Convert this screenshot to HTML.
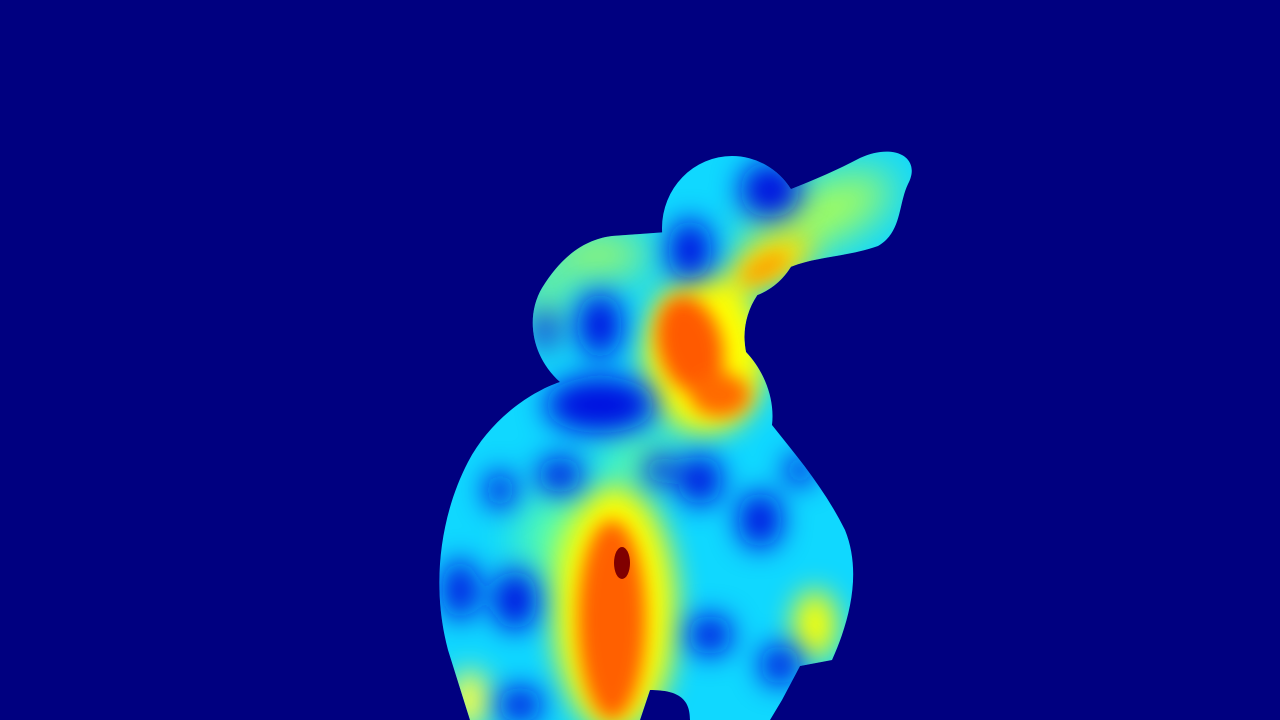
<!DOCTYPE html>
<html><head><meta charset="utf-8"><style>
html,body{margin:0;padding:0;background:#000080;width:1280px;height:720px;overflow:hidden}
svg{display:block}
</style></head><body>
<svg width="1280" height="720" viewBox="0 0 1280 720">
<defs>
<filter id="b8" x="-50%" y="-50%" width="200%" height="200%"><feGaussianBlur stdDeviation="9"/></filter>
<filter id="b14" x="-50%" y="-50%" width="200%" height="200%"><feGaussianBlur stdDeviation="14"/></filter>
<filter id="b22" x="-50%" y="-50%" width="200%" height="200%"><feGaussianBlur stdDeviation="22"/></filter>
<clipPath id="clip">
<path d="M470,720 L448,650 C432,590 438,520 468,462 C490,420 530,392 560,382 C530,355 526,315 542,288 C558,262 580,240 612,236 L668,232 C700,220 790,195 860,158 C895,142 922,158 908,184 C898,205 902,232 878,246 C845,258 808,256 780,272 C752,292 740,322 746,352 C765,372 775,400 772,425 C800,460 825,490 845,530 C862,572 850,620 832,660 L800,666 L782,700 L770,720 L690,720 C690,700 680,690 650,690 L640,720 Z"/>
<ellipse cx="732" cy="228" rx="70" ry="72"/>
</clipPath>
</defs>
<rect width="1280" height="720" fill="#000080"/>
<g clip-path="url(#clip)">
<rect x="400" y="130" width="540" height="600" fill="#10d8ff"/>
<g filter="url(#b22)">
<ellipse cx="820" cy="215" rx="80" ry="30" fill="#b0ff50" transform="rotate(-25 820 215)"/>
<ellipse cx="600" cy="255" rx="50" ry="20" fill="#c0ff40"/>
<ellipse cx="560" cy="540" rx="40" ry="50" fill="#60ffa0"/>
<ellipse cx="640" cy="460" rx="40" ry="30" fill="#60ffa0"/>
<ellipse cx="545" cy="300" rx="15" ry="40" fill="#a0ff60"/>
</g>
<g filter="url(#b14)">
<ellipse cx="615" cy="610" rx="62" ry="125" fill="#ffff00"/>
<ellipse cx="705" cy="355" rx="62" ry="80" fill="#ffff00"/>
<ellipse cx="770" cy="262" rx="45" ry="22" fill="#ffe000" transform="rotate(-25 770 262)"/>
<ellipse cx="815" cy="625" rx="22" ry="35" fill="#ffff00"/>
<ellipse cx="470" cy="700" rx="20" ry="30" fill="#ffff40"/>
</g>
<g filter="url(#b8)">
<ellipse cx="612" cy="620" rx="34" ry="100" fill="#ff6000"/>
<ellipse cx="690" cy="345" rx="32" ry="50" fill="#ff5a00" transform="rotate(-15 690 345)"/>
<ellipse cx="720" cy="395" rx="30" ry="22" fill="#ff6a00"/>
<ellipse cx="765" cy="268" rx="25" ry="10" fill="#ffa000" transform="rotate(-30 765 268)"/>
</g>
<g filter="url(#b14)" fill="#0010e0">
<ellipse cx="600" cy="325" rx="22" ry="32"/>
<ellipse cx="770" cy="190" rx="30" ry="28"/>
<ellipse cx="690" cy="250" rx="22" ry="30"/>
<ellipse cx="600" cy="405" rx="55" ry="28"/>
<ellipse cx="560" cy="475" rx="22" ry="18"/>
<ellipse cx="515" cy="600" rx="22" ry="30"/>
<ellipse cx="760" cy="520" rx="22" ry="28"/>
<ellipse cx="700" cy="480" rx="22" ry="25"/>
<ellipse cx="460" cy="590" rx="18" ry="30"/>
<ellipse cx="780" cy="665" rx="20" ry="20"/>
<ellipse cx="520" cy="705" rx="22" ry="18"/>
<ellipse cx="710" cy="635" rx="22" ry="20"/>
<ellipse cx="500" cy="490" rx="15" ry="18"/>
<ellipse cx="660" cy="470" rx="15" ry="15"/>
<ellipse cx="800" cy="470" rx="15" ry="15"/>
<ellipse cx="545" cy="330" rx="10" ry="20"/>
</g>
<ellipse cx="622" cy="563" rx="8" ry="16" fill="#800000"/>
</g>
</svg>
</body></html>
